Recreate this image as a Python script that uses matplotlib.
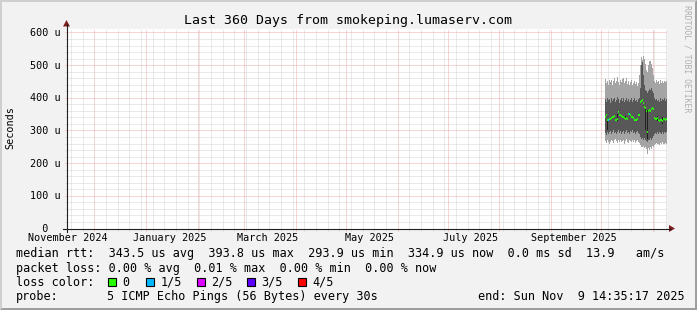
import matplotlib
matplotlib.use("Agg")
import matplotlib.pyplot as plt
import matplotlib.dates as mdates
from matplotlib.patches import Rectangle, Polygon
import pandas as pd

W, H = 697, 310
plt.rcParams['font.family'] = ['DejaVu Sans Mono']

end_time = pd.Timestamp("2025-11-09 14:35:17")
start_time = end_time - pd.Timedelta(days=360)
step_hours = 14.4  # one pixel column = 360 days / 600 px

# smoke per pixel column, early October 2025 -> now (microseconds)
ping_max = [458, 445, 452, 440, 456, 448, 455, 440, 450, 460, 445, 452, 465, 448, 440, 455,
            447, 458, 462, 445, 450, 460, 443, 452, 440, 448, 455, 438, 446, 450, 442, 448,
            436, 444, 470, 500, 525, 515, 527, 520, 505, 485, 478, 500, 512, 514, 505, 490,
            470, 452, 445, 455, 448, 450, 442, 455, 446, 452, 444, 450, 447, 453]
ping_min = [268, 262, 270, 265, 258, 266, 272, 268, 263, 270, 275, 268, 262, 270, 266, 272,
            264, 268, 272, 260, 268, 274, 266, 262, 270, 268, 264, 272, 266, 270, 262, 268,
            272, 266, 262, 255, 250, 248, 252, 245, 250, 242, 229, 245, 240, 248, 244, 252,
            250, 255, 258, 262, 258, 260, 256, 262, 258, 264, 260, 258, 262, 260]
ping_hi = [395, 388, 398, 392, 396, 385, 400, 390, 395, 398, 388, 392, 402, 396, 385, 394,
           398, 390, 400, 386, 394, 398, 390, 396, 388, 392, 400, 386, 394, 398, 390, 392,
           386, 395, 400, 430, 500, 510, 470, 440, 425, 420, 415, 422, 428, 425, 430, 420,
           415, 398, 392, 396, 390, 394, 388, 398, 390, 396, 392, 398, 390, 395]
ping_lo = [292, 286, 296, 290, 294, 298, 290, 295, 300, 292, 296, 288, 294, 300, 292, 297,
           290, 295, 298, 290, 294, 300, 292, 296, 290, 298, 294, 300, 292, 296, 290, 295,
           298, 292, 288, 280, 275, 278, 272, 276, 270, 268, 265, 272, 270, 276, 272, 278,
           282, 288, 292, 290, 294, 290, 296, 292, 288, 294, 290, 296, 292, 294]
median = [342, 346, 331, 331, 336, 336, 338, 341, 341, 343, 331, 331, 334, 356, 346, 346,
          344, 341, 341, 338, 336, 339, 336, 351, 351, 348, 341, 341, 338, 333, 333, 331,
          335, 346, 348, 387, 390, 394, 384, 372, 370, 360, 294, 361, 363, 361, 367, 368,
          365, 338, 336, 334, 338, 331, 329, 331, 333, 330, 334, 336, 333, 335]
lost = [0, 0, 0, 1, 0, 0, 0, 0, 0, 0, 0, 0, 0, 0, 0, 0,
        0, 0, 0, 0, 0, 0, 0, 0, 1, 0, 0, 0, 0, 0, 0, 0,
        0, 0, 0, 0, 0, 0, 0, 0, 0, 0, 0, 0, 0, 0, 0, 0,
        0, 0, 0, 0, 0, 0, 0, 0, 0, 0, 0, 0, 0, 0]
# near black streaks around the median
streak_col = [2, 12, 20, 40, 42, 52, 57]
streak_lo = [300, 330, 333, 300, 275, 330, 320]
streak_hi = [336, 350, 345, 372, 362, 345, 340]

y_ticks = [0, 100, 200, 300, 400, 500, 600]
y_labels = ["  0", "100 u", "200 u", "300 u", "400 u", "500 u", "600 u"]
x_labels = ["November 2024", "January 2025", "March 2025", "May 2025", "July 2025", "September 2025"]
x_label_dates = ["2024-11-15", "2025-01-15", "2025-03-15", "2025-05-15", "2025-07-15", "2025-09-15"]
loss_names = ["0", "1/5", "2/5", "3/5", "4/5"]
loss_colors = ["#26ff00", "#00b8ff", "#dd00ff", "#5e00ff", "#ff0000"]

title = "Last 360 Days from smokeping.lumaserv.com"
line_rtt = "median rtt:  343.5 us avg  393.8 us max  293.9 us min  334.9 us now  0.0 ms sd  13.9   am/s"
line_loss = "packet loss: 0.00 % avg  0.01 % max  0.00 % min  0.00 % now"
probe_text = "5 ICMP Echo Pings (56 Bytes) every 30s"
end_text = "end: Sun Nov  9 14:35:17 2025"

YMAX = 612.2
t0 = mdates.date2num(start_time)
t1 = mdates.date2num(end_time)
px_day = 600 / 360.0
px_u = 200 / YMAX

fig = plt.figure(figsize=(W / 100, H / 100), dpi=100)
fig.patch.set_facecolor("#f2f2f2")

ax = fig.add_axes([67 / W, (H - 228.5) / H, 600 / W, 200 / H])
ax.set_facecolor("white")
ax.set_xlim(t0, t1)
ax.set_ylim(0, YMAX)
for s in ax.spines.values():
    s.set_visible(False)
ax.set_xticks([])
ax.set_yticks([])

GRID = "#d4d4d4"
MGRID = "#f0acac"
dots = (0, (1, 1))

# grid, sticking out 2px past the axes
months = [mdates.date2num(d) for d in pd.date_range("2024-12-01", end_time, freq="MS")]
weeks = [mdates.date2num(d) for d in pd.date_range("2024-11-17", end_time, freq="7D")]
for w in weeks:
    if min(abs(w - m) for m in months) > 0.5:
        ax.plot([w, w], [-2 / px_u, YMAX], color=GRID, lw=0.72, ls=dots, clip_on=False, zorder=1)
for v in range(20, 601, 20):
    if v % 100:
        ax.plot([t0 - 2 / px_day, t1], [v, v], color=GRID, lw=0.72, ls=dots, clip_on=False, zorder=1)
for m in months:
    ax.plot([m, m], [-2 / px_u, YMAX], color=MGRID, lw=0.72, ls=dots, clip_on=False, zorder=1)
for v in y_ticks[1:]:
    ax.plot([t0 - 2 / px_day, t1], [v, v], color=MGRID, lw=0.72, ls=dots, clip_on=False, zorder=1)

# smoke
n = len(median)
edges = [mdates.date2num(end_time - pd.Timedelta(hours=step_hours * (n - i))) for i in range(n + 1)]
ax.stairs(ping_max, edges, baseline=ping_min, fill=True, color="#a4a4a4", lw=0, zorder=2)
ax.stairs(ping_hi, edges, baseline=ping_lo, fill=True, color="#585858", lw=0, zorder=3)
step = edges[1] - edges[0]
for c, lo, hi in zip(streak_col, streak_lo, streak_hi):
    ax.add_patch(Rectangle((edges[c], lo), step, hi - lo, color="#202020", lw=0, zorder=4))
# median, 2px high, coloured by loss
ax.bar(edges[:-1], 2 / px_u, bottom=[m - 1 / px_u for m in median], width=step, align="edge",
       color=[loss_colors[k] for k in lost], lw=0, zorder=5)

# overlay in pixel coordinates for frame, axes, arrows and text
ov = fig.add_axes([0, 0, 1, 1], zorder=5)
ov.set_xlim(0, W)
ov.set_ylim(H, 0)
ov.patch.set_alpha(0)
ov.axis("off")

ov.add_patch(Polygon([(0, 0), (W, 0), (W - 2, 2), (2, 2), (2, H - 2), (0, H)], color="#cfcfcf", lw=0))
ov.add_patch(Polygon([(W, 0), (W, H), (0, H), (2, H - 2), (W - 2, H - 2), (W - 2, 2)], color="#9e9e9e", lw=0))

ov.plot([62.5, 671], [228.5, 228.5], color="#1f1f1f", lw=0.8)
ov.plot([66.5, 66.5], [232, 24], color="#1f1f1f", lw=0.8)
ov.add_patch(Polygon([(669, 225), (669, 232), (675, 228.5)], color="#801f1f", lw=0))
ov.add_patch(Polygon([(63, 26.5), (70, 26.5), (66.5, 20)], color="#801f1f", lw=0))

ov.text(W / 2, 24, title, ha="center", va="baseline", fontsize=9.5)
ov.text(10.5, 128, "Seconds", rotation=90, ha="center", va="center", fontsize=7.3)
ov.text(687.5, 59, "RRDTOOL / TOBI OETIKER", rotation=270, ha="center", va="center",
        fontsize=5.9, color="#b0b0b0")

for v, lab in zip(y_ticks, y_labels):
    ov.text(30.5, 228.5 - v * px_u + 3.5, lab, ha="left", va="baseline", fontsize=7.3)
for d, lab in zip(x_label_dates, x_labels):
    xp = 67 + (mdates.date2num(pd.Timestamp(d)) - t0) * px_day
    ov.text(xp, 241, lab, ha="center", va="baseline", fontsize=7.3)

ov.text(15.5, 257.3, line_rtt, ha="left", va="baseline", fontsize=8.5)
ov.text(15.5, 271.7, line_loss, ha="left", va="baseline", fontsize=8.5)
ov.text(15.5, 285.7, "loss color:", ha="left", va="baseline", fontsize=8.5)
box_x = [108, 145.7, 196.7, 247, 298]
for bx, name, col in zip(box_x, loss_names, loss_colors):
    ov.add_patch(Rectangle((bx, 277.5), 8, 8, facecolor=col, edgecolor="black", lw=0.8))
    ov.text(bx + 14.5, 285.7, name, ha="left", va="baseline", fontsize=8.5)
ov.text(15.5, 300, "probe:", ha="left", va="baseline", fontsize=8.5)
ov.text(107, 300, probe_text, ha="left", va="baseline", fontsize=8.5)
ov.text(478, 300, end_text, ha="left", va="baseline", fontsize=8.5)

fig.savefig("out.png", dpi=100)
